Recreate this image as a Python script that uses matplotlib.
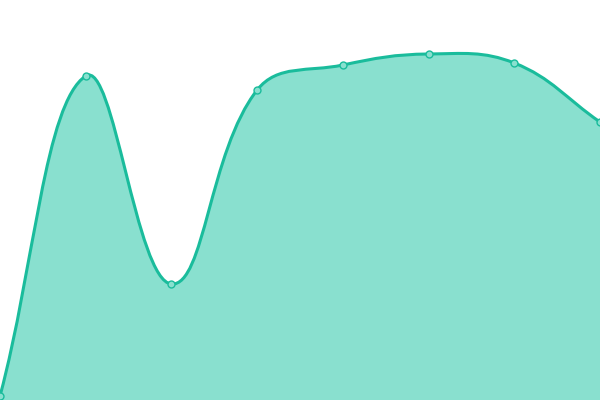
import matplotlib

matplotlib.use("Agg")
import matplotlib.pyplot as plt
import numpy as np
from matplotlib.patches import PathPatch
from matplotlib.path import Path

# values (pixel height above the bottom of a 400px canvas)
categories = ["A", "B", "C", "D", "E", "F", "G", "H"]
values = [4, 324, 116, 310, 335, 346, 337, 278]

LINE = "#1abc9c"
FILL = "#89e0cf"


def smooth_path(pts, tension=0.4):
    """Cubic bezier path through pts (display coords), chart.js-like spline."""
    n = len(pts)
    cp_in, cp_out = [], []
    for i in range(n):
        p = pts[i]
        prev = pts[i - 1] if i > 0 else p
        nxt = pts[i + 1] if i < n - 1 else p
        d0 = np.hypot(*(p - prev))
        d1 = np.hypot(*(nxt - p))
        tot = d0 + d1
        s0 = d0 / tot if tot else 0
        s1 = d1 / tot if tot else 0
        cp_in.append(p - tension * s0 * (nxt - prev))
        cp_out.append(p + tension * s1 * (nxt - prev))
    verts = [pts[0]]
    codes = [Path.MOVETO]
    for i in range(1, n):
        verts += [cp_out[i - 1], cp_in[i], pts[i]]
        codes += [Path.CURVE4] * 3
    return np.array(verts), codes


fig = plt.figure(figsize=(6, 4), dpi=100)
ax = fig.add_axes([0, 0, 1, 1])
ax.set_xlim(0, len(categories) - 1)
ax.set_ylim(0, 400)
ax.axis("off")

xs = np.arange(len(categories))
disp = ax.transData.transform(np.column_stack([xs, values]))
verts, codes = smooth_path(disp)
data_verts = ax.transData.inverted().transform(verts)

# filled area down to the baseline
area_verts = np.vstack([data_verts, [[xs[-1], 0], [xs[0], 0], data_verts[0]]])
area_codes = codes + [Path.LINETO, Path.LINETO, Path.CLOSEPOLY]
ax.add_patch(PathPatch(Path(area_verts, area_codes), facecolor=FILL, edgecolor="none"))
ax.add_patch(PathPatch(Path(data_verts, codes), facecolor="none", edgecolor=LINE, linewidth=2.2))

ax.plot(xs, values, "o", markersize=5, markerfacecolor=FILL, markeredgecolor=LINE,
        markeredgewidth=1.0, clip_on=False)

fig.savefig("out.png")
